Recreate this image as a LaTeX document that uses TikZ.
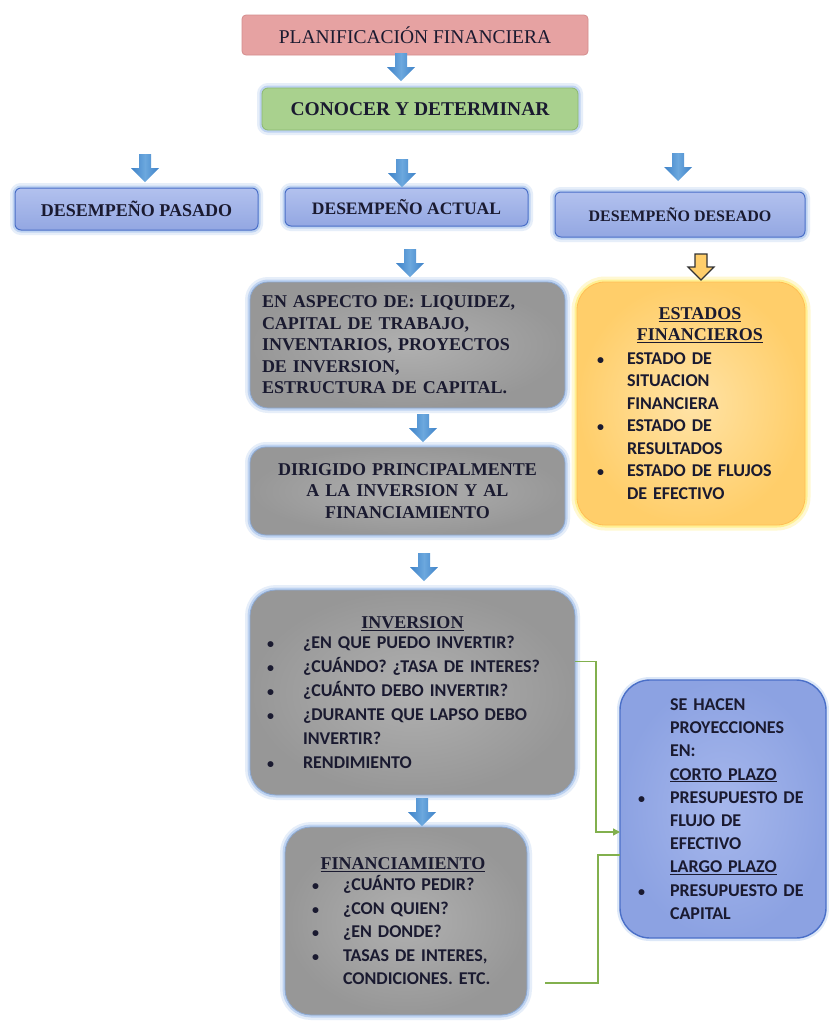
\documentclass[tikz,border=0pt]{standalone}
\usepackage{fontspec}
\setmainfont{Liberation Serif}
\newfontfamily\calib{Carlito}
\usetikzlibrary{arrows.meta,calc}
\definecolor{txt}{HTML}{1A1A30}
\definecolor{planfill}{HTML}{E6A2A2}
\definecolor{planedge}{HTML}{D48C8C}
\definecolor{greenfill}{HTML}{A9D18E}
\definecolor{greenedge}{HTML}{8CB870}
\definecolor{glowc}{HTML}{8FB3E8}
\definecolor{desfillA}{HTML}{B2C1EE}
\definecolor{desfillB}{HTML}{93A7E2}
\definecolor{desedge}{HTML}{4A6FC8}
\definecolor{grayA}{HTML}{B0B0B0}
\definecolor{grayB}{HTML}{979797}
\definecolor{yelA}{HTML}{FFE3A6}
\definecolor{yelB}{HTML}{FFCE6A}
\definecolor{yelglow}{HTML}{FFEB6A}
\definecolor{bluA}{HTML}{A6B7EC}
\definecolor{bluB}{HTML}{8CA2E2}
\definecolor{abA}{HTML}{3E82C8}
\definecolor{abB}{HTML}{6CA8DE}
\definecolor{gline}{HTML}{82B04E}
\newlength\bw
\newcommand\bitem[1]{\makebox[\bw][l]{\hspace*{1pt}{\fontsize{14}{14}\selectfont\textbullet}}\mbox{#1}}
\newcommand\citem[1]{\hspace*{\bw}\mbox{#1}}
\begin{document}
\begin{tikzpicture}[x=1pt,y=-1pt,
  base/.style={outer sep=0pt, inner sep=0pt, text=txt, align=center},
  glowb/.style={preaction={draw=glowc, line width=10pt, opacity=0.22},
                preaction={draw=glowc, line width=5pt, opacity=0.45}},
  glowy/.style={preaction={draw=yelglow, line width=11pt, opacity=0.3},
                preaction={draw=yelglow, line width=5pt, opacity=0.6}},
  planbox/.style={base, fill=planfill, draw=planedge, line width=0.8pt, rounded corners=4pt,
                  font=\fontsize{19.5}{22}\selectfont},
  greenbox/.style={base, glowb, fill=greenfill, draw=greenedge, line width=0.8pt, rounded corners=6pt,
                  font=\fontsize{19.5}{22}\selectfont\bfseries},
  desbox/.style={base, glowb, top color=desfillA, bottom color=desfillB, draw=desedge, line width=1pt,
                  rounded corners=6pt, font=\fontsize{17.5}{20}\selectfont\bfseries},
  graybox/.style={base, glowb, inner color=grayA, outer color=grayB, draw=glowc!80!gray, line width=0.8pt,
                  font=\fontsize{18}{21.5}\selectfont\bfseries},
  yelbox/.style={base, glowy, inner color=yelA, outer color=yelB, draw=yelB!80!orange, line width=0.8pt,
                  rounded corners=28pt, font=\fontsize{18}{22.5}\selectfont\bfseries},
  blubox/.style={base, inner color=bluA, outer color=bluB, draw=desedge, line width=1.4pt,
                  preaction={draw=glowc, line width=6pt, opacity=0.3},
                  rounded corners=30pt, font=\fontsize{18}{23.2}\selectfont\bfseries},
  gconn/.style={draw=gline, line width=1.4pt},
  barrow/.pic={\shade[left color=abA, right color=abA, middle color=abB]
      (-6,0) -- (6,0) -- (6,14) -- (14,14) -- (0,28) -- (-14,14) -- (-6,14) -- cycle;},
  yarrow/.pic={\filldraw[fill=yelB, draw=black!80, line width=1.1pt, line join=miter]
      (-6,0) -- (6,0) -- (6,13) -- (13,13) -- (0,26) -- (-13,13) -- (-6,13) -- cycle;}
]
\useasboundingbox (0,0) rectangle (829,1021);
\fill[white] (0,0) rectangle (829,1021);

% top boxes
\node[planbox, minimum width=346pt, minimum height=40pt] (plan) at (415,35) {PLANIFICACIÓN FINANCIERA};
\node[greenbox, minimum width=316pt, minimum height=42pt] (conocer) at (420,109) {CONOCER Y DETERMINAR};

\node[desbox, minimum width=243pt, minimum height=42pt, font=\fontsize{18}{20}\selectfont\bfseries] (pasado) at (136.5,209) {DESEMPEÑO PASADO};
\node[desbox, minimum width=243pt, minimum height=38pt] (actual) at (406.5,207) {DESEMPEÑO ACTUAL};
\node[desbox, minimum width=250pt, minimum height=45pt, font=\fontsize{16}{18}\selectfont\bfseries] (deseado) at (680,214.5) {DESEMPEÑO DESEADO};

% middle column
\node[graybox, rounded corners=18pt, minimum width=315pt, minimum height=126pt, text width=291pt, align=left]
  (aspecto) at (407.5,345)
  {EN ASPECTO DE: LIQUIDEZ,\\CAPITAL DE TRABAJO,\\INVENTARIOS, PROYECTOS\\DE INVERSION,\\ESTRUCTURA DE CAPITAL.};

\node[graybox, rounded corners=16pt, minimum width=315pt, minimum height=88pt, text width=300pt]
  (dirigido) at (407.5,491)
  {DIRIGIDO PRINCIPALMENTE\\A LA INVERSION Y AL\\FINANCIAMIENTO};

\node[yelbox, minimum width=228pt, minimum height=243pt, text width=190pt, align=left]
  (estados) at (691,403.5)
  {\setlength\bw{31pt}\makebox[190pt][c]{\hspace*{18pt}\underline{ESTADOS}}\\[-1.5pt]
   \makebox[190pt][c]{\hspace*{18pt}\underline{FINANCIEROS}}\\[1pt]
   \calib\bitem{ESTADO DE}\\\citem{SITUACION}\\\citem{FINANCIERA}\\
   \bitem{ESTADO DE}\\\citem{RESULTADOS}\\
   \bitem{ESTADO DE FLUJOS}\\\citem{DE EFECTIVO}};

\node[graybox, rounded corners=26pt, minimum width=325pt, minimum height=205pt, text width=293pt, align=left,
      font=\fontsize{18}{24}\selectfont\bfseries]
  (inversion) at (412.5,692.5)
  {\setlength\bw{37pt}\makebox[293pt][c]{\underline{INVERSION}}\\[-4pt]
   \calib\bitem{¿EN QUE PUEDO INVERTIR?}\\
   \bitem{¿CUÁNDO? ¿TASA DE INTERES?}\\
   \bitem{¿CUÁNTO DEBO INVERTIR?}\\
   \bitem{¿DURANTE QUE LAPSO DEBO}\\\citem{INVERTIR?}\\
   \bitem{RENDIMIENTO}};

\node[graybox, rounded corners=26pt, minimum width=242pt, minimum height=188pt, text width=190pt, align=left,
      font=\fontsize{18}{23.5}\selectfont\bfseries]
  (financ) at (406,921)
  {\setlength\bw{32pt}\makebox[190pt][c]{\hspace*{-6pt}\underline{FINANCIAMIENTO}}\\[-2pt]
   \calib\bitem{¿CUÁNTO PEDIR?}\\
   \bitem{¿CON QUIEN?}\\
   \bitem{¿EN DONDE?}\\
   \bitem{TASAS DE INTERES,}\\\citem{CONDICIONES. ETC.}};

\node[blubox, minimum width=206pt, minimum height=258pt, text width=172pt, align=left]
  (sehacen) at (723,809)
  {\setlength\bw{33pt}\calib
   \citem{SE HACEN}\\\citem{PROYECCIONES}\\\citem{EN:}\\
   \citem{\underline{CORTO PLAZO}}\\
   \bitem{PRESUPUESTO DE}\\\citem{FLUJO DE}\\\citem{EFECTIVO}\\
   \citem{\underline{LARGO PLAZO}}\\
   \bitem{PRESUPUESTO DE}\\\citem{CAPITAL}};

% block arrows
\pic at (401,53) {barrow};
\pic at (145,154) {barrow};
\pic at (402,159) {barrow};
\pic at (678,153) {barrow};
\pic at (410,249) {barrow};
\pic at (701,254) {yarrow};
\pic at (423,414) {barrow};
\pic at (424,553) {barrow};
\pic at (422,798) {barrow};

% green connectors
\coordinate (g1) at ([yshift=31pt]inversion.east);
\coordinate (g2) at ([xshift=18pt,yshift=-62pt]financ.east);
\draw[gconn, -{Triangle[length=7pt,width=7pt]}] (g1) -- ++(21,0) |- ([yshift=-23pt]sehacen.west);
\draw[gconn] (g2) -- ++(53,0) |- ([yshift=-46pt]sehacen.west);
\end{tikzpicture}
\end{document}
